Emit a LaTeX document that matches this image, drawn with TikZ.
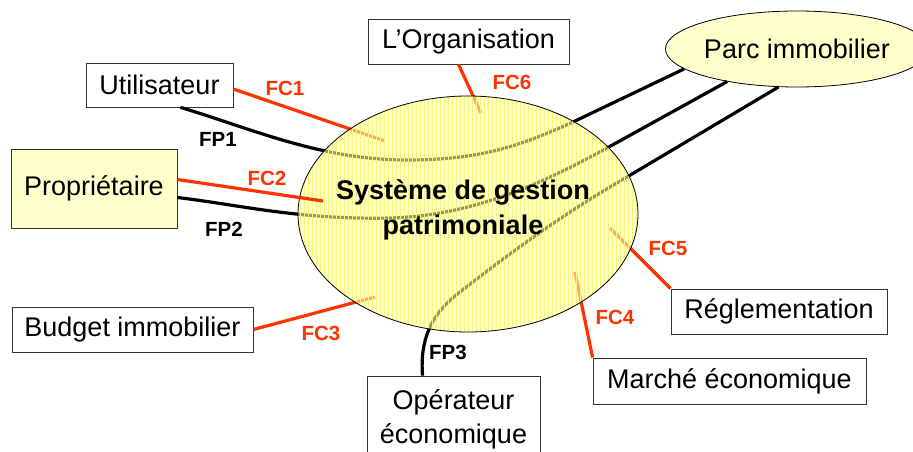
\documentclass[tikz,border=0pt]{standalone}
\usepackage{fontspec}
\setmainfont{Liberation Sans}
\usetikzlibrary{shapes.geometric,calc}
\definecolor{rouge}{HTML}{FF3300}
\definecolor{jaune}{HTML}{FFFFCC}
\definecolor{jaunesys}{HTML}{FFFF99}
\definecolor{grille}{HTML}{E8E070}

\begin{document}
\begin{tikzpicture}[x=1pt, y=-1pt,
  box/.style={draw=black!80, line width=0.8pt, inner sep=0pt, align=center, font=\fontsize{27}{34}\selectfont},
  ovale/.style={ellipse, draw, line width=0.8pt, inner sep=0pt, align=center},
  fp/.style={draw=black, line width=3.2pt},
  fc/.style={draw=rouge, line width=3.2pt},
  lab/.style={font=\bfseries\fontsize{20.5}{24}\selectfont, inner sep=0pt}]

\useasboundingbox (0,0) rectangle (913,452);

% acteurs autour du systeme
\node[box, minimum width=147pt, minimum height=44pt] (uti) at (159.5,85) {Utilisateur};
\node[box, minimum width=201pt, minimum height=45pt] (org) at (468.5,41.5) {L’Organisation};
\node[box, fill=jaune, minimum width=166pt, minimum height=79pt] (prop) at (94,188.5) {Propriétaire};
\node[box, minimum width=241pt, minimum height=45pt] (budget) at (132.5,329.5) {Budget immobilier};
\node[box, minimum width=173pt, minimum height=86pt] (opr) at (453.5,419) {Opérateur\\économique};
\node[box, minimum width=216pt, minimum height=45pt] (regl) at (779,311.5) {Réglementation};
\node[box, minimum width=273pt, minimum height=46pt] (marche) at (729.5,381) {Marché économique};
\node[ovale, fill=jaune, minimum width=232pt, minimum height=76pt, font=\fontsize{27}{34}\selectfont] (parc) at (797,49) {Parc immobilier};

% bouts des fonctions contraintes dans le systeme
\coordinate (fc1b) at (385,141);
\coordinate (fc2b) at (323,201);
\coordinate (fc3b) at (375,297);
\coordinate (fc4b) at (575,272);
\coordinate (fc5b) at (610,228);
\coordinate (fc6b) at (481,113);

% Fonctions principales (vers le parc)
\draw[fp] ($(uti.south)+(21,0)$) .. controls (250,128) and (320,160) .. (407,160)
  .. controls (480,160) and (520,146) .. (573,122) -- (parc.190);
\draw[fp] ($(prop.east)+(0,9)$) .. controls (240,205) and (300,220) .. (390,218)
  .. controls (470,216) and (540,185) .. (607,148) -- (parc.205);
\draw[fp] ($(opr.north)+(-31,0)$) .. controls (420,340) and (430,315) .. (460,292)
  .. controls (520,245) and (570,210) .. (627,177) -- (parc.244);

% Fonctions contraintes
\draw[fc] ($(uti.east)+(0,4)$) -- (fc1b);
\draw[fc] (budget.east) -- (fc3b);
\draw[fc] (marche.north west) -- (fc4b);
\draw[fc] (regl.north west) -- (fc5b);
\draw[fc] ($(org.south)+(-10,0)$) -- (fc6b);

% trame du systeme
\begin{scope}
  \clip (468,214) ellipse [x radius=170, y radius=118];
  \draw[grille, line width=0.4pt, step=4] (296,94) grid (640,334);
\end{scope}
\node[ovale, fill=jaunesys, fill opacity=0.6, text opacity=1, minimum width=340pt, minimum height=236pt,
  font=\bfseries\fontsize{27}{35}\selectfont] (sys) at (468,214) {};
\node[font=\bfseries\fontsize{27}{35}\selectfont, align=center, inner sep=0pt] (titre) at (463,210) {Système de gestion\\patrimoniale};

\draw[fc] ($(prop.east)+(0,-9)$) -- (fc2b);

% etiquettes
\node[lab, text=rouge] (lfc1) at (285,88) {FC1};
\node[lab, text=rouge] (lfc2) at (267,178) {FC2};
\node[lab, text=rouge] (lfc3) at (321,333) {FC3};
\node[lab, text=rouge] (lfc4) at (615,317) {FC4};
\node[lab, text=rouge] (lfc5) at (668,248) {FC5};
\node[lab, text=rouge] (lfc6) at (512,82) {FC6};
\node[lab] (lfp1) at (218,139) {FP1};
\node[lab] (lfp2) at (224,229) {FP2};
\node[lab] (lfp3) at (448,352) {FP3};

\end{tikzpicture}
\end{document}
